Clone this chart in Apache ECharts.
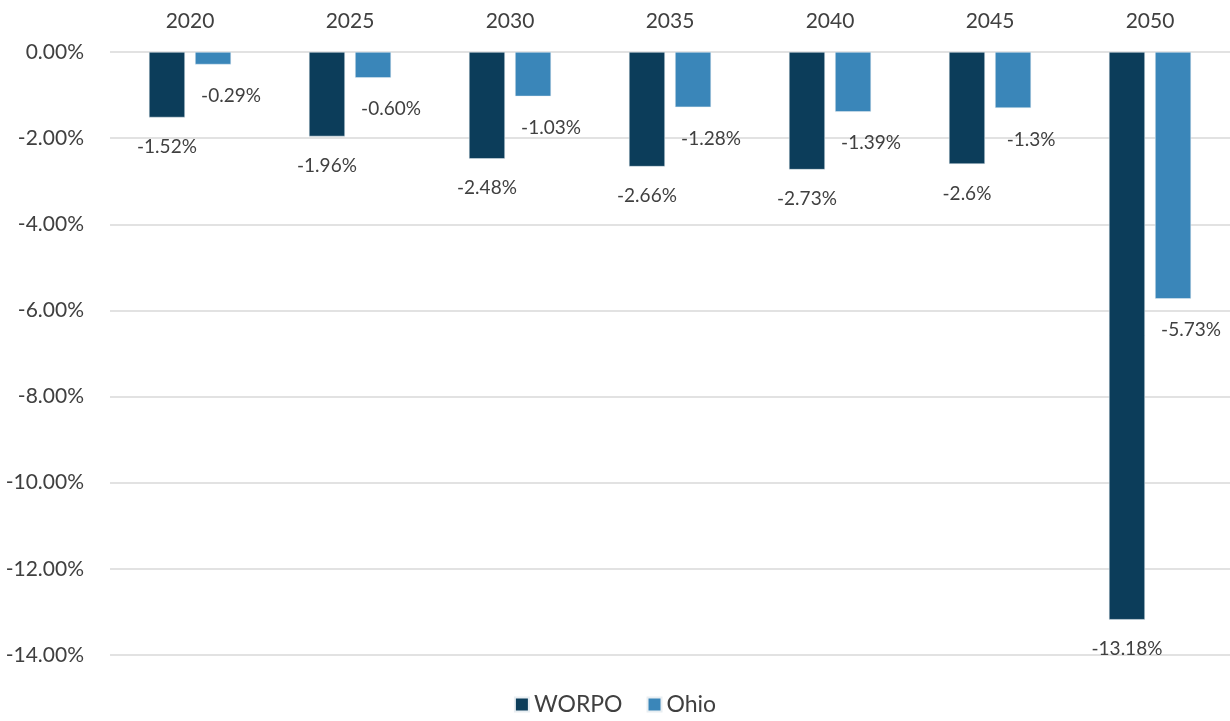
<!DOCTYPE html>
<html><head><meta charset="utf-8">
<script src="https://cdn.jsdelivr.net/npm/echarts@6/dist/echarts.min.js"></script>
<style>html,body{margin:0;padding:0;background:#fff}#c{width:1230px;height:721px}</style>
</head><body><div id="c"></div>
<script>
const categories = ['2020','2025','2030','2035','2040','2045','2050'];
const worpoValues = [-1.52,-1.96,-2.48,-2.66,-2.73,-2.6,-13.18];
const ohioValues = [-0.29,-0.60,-1.03,-1.28,-1.39,-1.3,-5.73];
const worpoLabels = ['-1.52%','-1.96%','-2.48%','-2.66%','-2.73%','-2.6%','-13.18%'];
const ohioLabels = ['-0.29%','-0.60%','-1.03%','-1.28%','-1.39%','-1.3%','-5.73%'];

const font = 'Lato, "Open Sans", sans-serif';
const chart = echarts.init(document.getElementById('c'));
chart.setOption({
  animation:false,
  textStyle:{fontFamily:font},
  grid:{left:110,right:0,top:52,bottom:66,containLabel:false},
  legend:{bottom:0,left:'center',itemWidth:14,itemHeight:14,itemGap:24,
    icon:'rect',textStyle:{fontSize:23,color:'#404040',fontFamily:font},
    data:['WORPO','Ohio']},
  xAxis:{type:'category',data:categories,position:'top',
    axisLine:{show:false},axisTick:{show:false},
    axisLabel:{fontSize:21,color:'#404040',margin:20}},
  yAxis:{type:'value',min:-14,max:0,interval:2,
    axisLine:{show:false},axisTick:{show:false},
    splitLine:{lineStyle:{color:'#d9d9d9',width:1.5}},
    axisLabel:{fontSize:21,color:'#404040',margin:26,formatter:v=>v.toFixed(2)+'%'}},
  series:[
    {name:'WORPO',type:'bar',data:worpoValues,barWidth:36,barGap:'28%',
     itemStyle:{color:'#0c3d5a',borderColor:'#e8eef2',borderWidth:0.5},
     label:{show:true,position:'bottom',distance:20,fontSize:19,color:'#404040',
       formatter:p=>worpoLabels[p.dataIndex]}},
    {name:'Ohio',type:'bar',data:ohioValues,barWidth:36,
     itemStyle:{color:'#3a86b9',borderColor:'#e8eef2',borderWidth:0.5},
     label:{show:true,position:'bottom',distance:22,offset:[18,0],fontSize:19,color:'#404040',
       formatter:p=>ohioLabels[p.dataIndex]}}
  ]
});
</script></body></html>
